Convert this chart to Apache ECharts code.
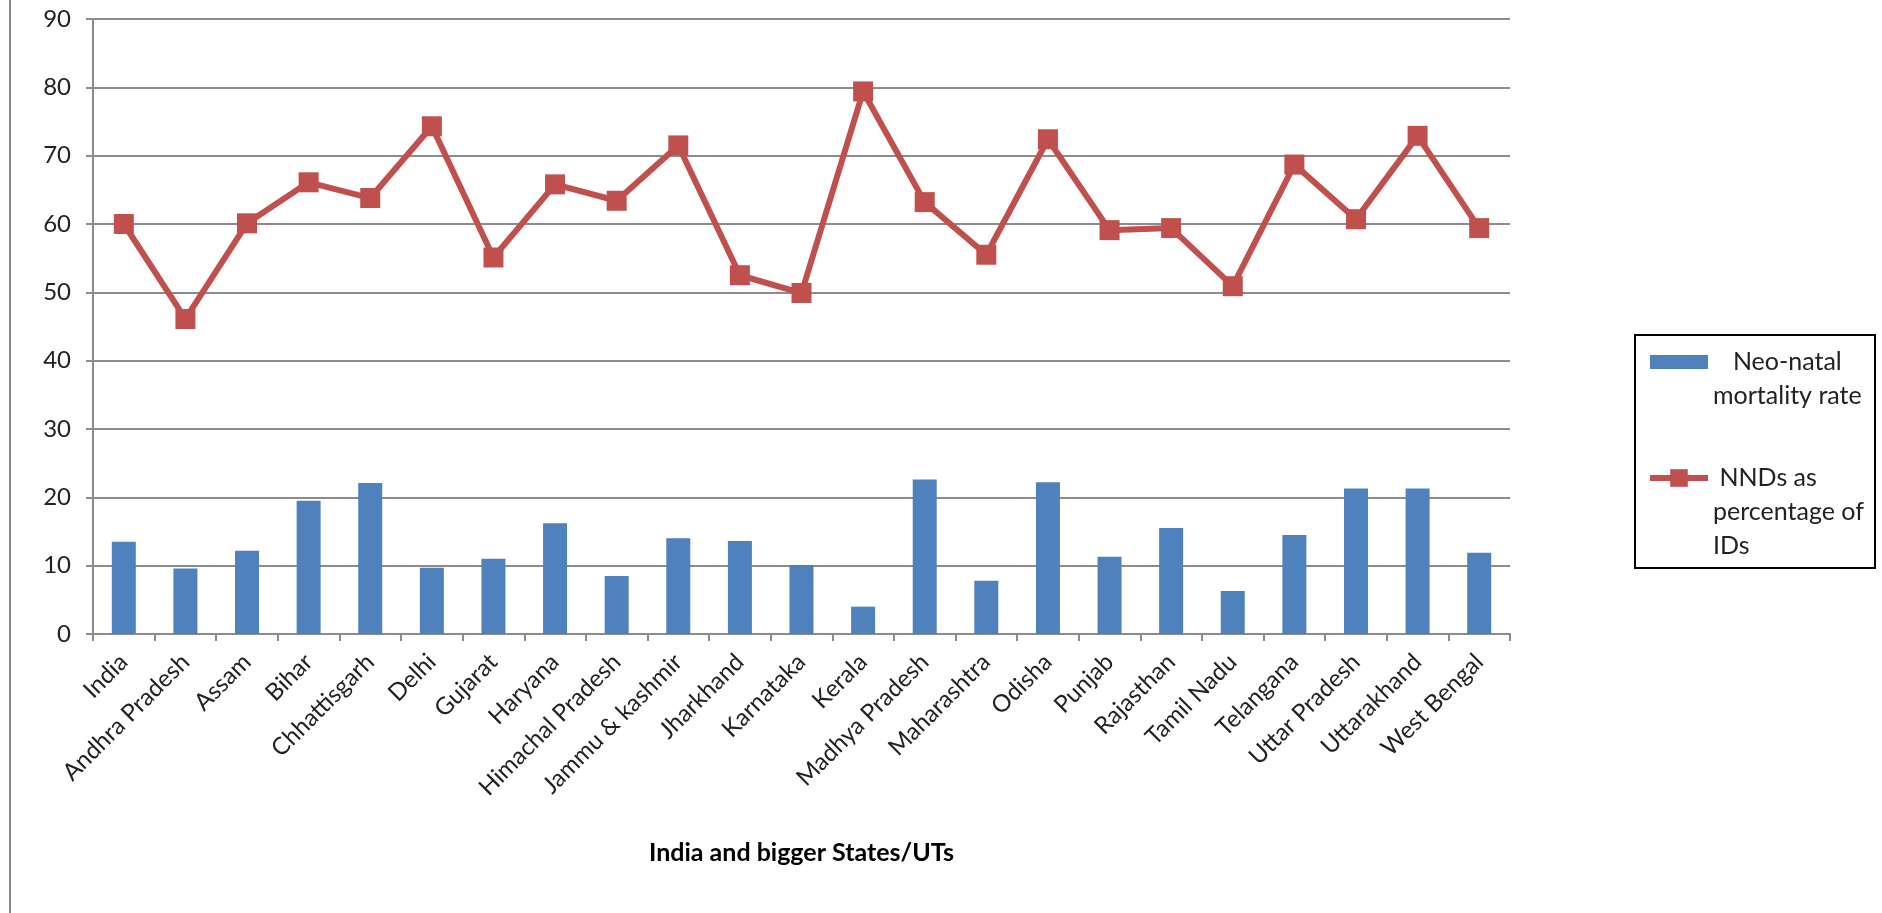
<!DOCTYPE html>
<html><head><meta charset="utf-8">
<script src="https://cdn.jsdelivr.net/npm/echarts@6/dist/echarts.min.js"></script>
<style>html,body{margin:0;padding:0;background:#fff}#c{width:1882px;height:913px}</style>
</head><body><div id="c"></div>
<script>
const categories = ['India','Andhra Pradesh','Assam','Bihar','Chhattisgarh','Delhi','Gujarat','Haryana','Himachal Pradesh','Jammu & kashmir','Jharkhand','Karnataka','Kerala','Madhya Pradesh','Maharashtra','Odisha','Punjab','Rajasthan','Tamil Nadu','Telangana','Uttar Pradesh','Uttarakhand','West Bengal'];
const neonatalRate = [13.5, 9.6, 12.2, 19.5, 22.1, 9.7, 11.0, 16.2, 8.5, 14.0, 13.6, 10.1, 4.0, 22.6, 7.8, 22.2, 11.3, 15.5, 6.3, 14.5, 21.3, 21.3, 11.9];
const nndPercent = [60.0, 46.1, 60.1, 66.1, 63.8, 74.3, 55.1, 65.8, 63.4, 71.5, 52.5, 49.9, 79.4, 63.2, 55.5, 72.4, 59.1, 59.4, 50.9, 68.7, 60.7, 72.9, 59.4];
const yMin = 0, yMax = 90, yStep = 10;
const seriesNames = ['Neo-natal mortality rate', 'NNDs as percentage of IDs'];
const xTitle = 'India and bigger States/UTs';

const F = 'Lato, "DejaVu Sans", sans-serif';
const GRID = '#8c8c8c';
const chart = echarts.init(document.getElementById('c'), null, {renderer:'canvas'});
chart.setOption({
  animation: false,
  backgroundColor: '#fff',
  grid: {left: 93, right: 372, top: 19, bottom: 279},
  xAxis: {
    type: 'category', data: categories, boundaryGap: true,
    axisLine: {lineStyle: {color: GRID, width: 2}},
    axisTick: {show: true, length: 7, lineStyle: {color: GRID, width: 2}},
    axisLabel: {interval: 0, rotate: 45, margin: 24, fontFamily: F, fontSize: 24, color: '#222'},
    name: xTitle, nameLocation: 'middle', nameGap: 206,
    nameTextStyle: {fontFamily: F, fontSize: 25, fontWeight: 'bold', color: '#000'}
  },
  yAxis: {
    type: 'value', min: yMin, max: yMax, interval: yStep,
    axisLine: {show: true, lineStyle: {color: GRID, width: 2}},
    axisTick: {show: true, length: 7, lineStyle: {color: GRID, width: 2}},
    splitLine: {lineStyle: {color: GRID, width: 2}},
    axisLabel: {margin: 22, fontFamily: F, fontSize: 24, color: '#222'}
  },
  legend: {
    orient: 'vertical', left: 1647, top: 311, padding: 0,
    itemWidth: 58, itemHeight: 22, itemGap: -20,
    textStyle: {fontFamily: F, fontSize: 25, lineHeight: 34, color: '#222',
      rich: {c: {align: 'center', fontFamily: F, fontSize: 25, lineHeight: 34, color: '#222'}}},
    formatter: function (name) {
      return name === seriesNames[0] ? '\n{c|Neo-natal}\n{c|mortality rate}' : '\n\n NNDs as\npercentage of\nIDs';
    },
    data: [{name: seriesNames[0], icon: 'path://M0,0H53V13H0Z'},
           {name: seriesNames[1], lineStyle: {width: 6}}]
  },
  graphic: [
    {type: 'line', shape: {x1: 10, y1: 0, x2: 10, y2: 913}, style: {stroke: '#888', lineWidth: 2}},
    {type: 'rect', shape: {x: 1635, y: 335, width: 240, height: 233}, style: {fill: 'none', stroke: '#000', lineWidth: 2}}
  ],
  series: [
    {name: seriesNames[0], type: 'bar', data: neonatalRate, barWidth: 24,
     itemStyle: {color: '#4F81BD'}},
    {name: seriesNames[1], type: 'line', data: nndPercent, symbol: 'rect', symbolSize: 20,
     lineStyle: {color: '#C0504D', width: 6}, itemStyle: {color: '#C0504D'}, z: 3}
  ]
});
</script></body></html>
